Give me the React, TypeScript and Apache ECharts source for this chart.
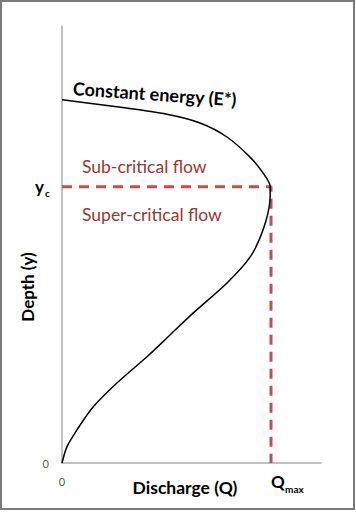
import React, { useEffect, useRef } from "react";
import * as echarts from "echarts";

// Constant-energy curve: [discharge Q, depth y] (relative units, 0..100)
const curveQ = [0, 21.2, 40.5, 53.3, 63.7, 72.6, 77.6, 80.4, 80.3, 77.6, 72.6, 63.7, 50.6, 41.7, 32.8, 21.2, 12.0, 5.8, 1.9, 0];
const curveY = [83.1, 81.5, 79.8, 77.8, 74.6, 70.0, 66.4, 63.2, 60.2, 53.3, 47.1, 41.2, 34.3, 29.3, 24.3, 18.3, 12.8, 7.6, 3.7, 0];
const criticalDepth = 63.2; // y_c
const maxDischarge = 80.7; // Q_max
const axisMin = 0;
const axisMax = 100;

const FONT = "Lato, 'Open Sans', sans-serif";
const RED_TEXT = "#953735";
const RED_LINE = "#c0504d";

export default function App() {
  const ref = useRef<HTMLDivElement>(null);
  useEffect(() => {
    if (!ref.current) return;
    const chart = echarts.init(ref.current, null, { renderer: "svg" });
    const curve = curveQ.map((q, i) => [q, curveY[i]]);
    const dashed = [
      [axisMin, criticalDepth],
      [maxDischarge, criticalDepth],
      [maxDischarge, axisMin],
    ];
    chart.setOption({
      animation: false,
      backgroundColor: "#ffffff",
      grid: { left: 62, right: 35, top: 26, bottom: 49, containLabel: false },
      xAxis: {
        type: "value",
        min: axisMin,
        max: axisMax,
        interval: 100,
        axisLine: { show: true, lineStyle: { color: "#acacac", width: 1.5 } },
        axisTick: { show: false },
        splitLine: { show: false },
        axisLabel: {
          margin: 13,
          color: "#555",
          fontSize: 11,
          fontFamily: FONT,
          formatter: (v: number) => (v === 0 ? "0" : ""),
        },
      },
      yAxis: {
        type: "value",
        min: axisMin,
        max: axisMax,
        interval: 100,
        axisLine: { show: true, lineStyle: { color: "#acacac", width: 1.5 } },
        axisTick: { show: false },
        splitLine: { show: false },
        axisLabel: {
          margin: 13,
          color: "#555",
          fontSize: 11,
          fontFamily: FONT,
          formatter: (v: number) => (v === 0 ? "0" : ""),
        },
      },
      series: [
        {
          type: "line",
          data: dashed,
          symbol: "none",
          lineStyle: { color: RED_LINE, width: 3, type: [10, 7] },
          z: 2,
        },
        {
          type: "line",
          data: curve,
          symbol: "none",
          smooth: 0.3,
          lineStyle: { color: "#000", width: 1.5 },
          z: 3,
        },
      ],
      graphic: [
        {
          type: "rect",
          shape: { x: 1, y: 1, width: 353, height: 508 },
          style: { fill: "none", stroke: "#7a7a7a", lineWidth: 2 },
          silent: true,
        },
        {
          type: "text",
          x: 73,
          y: 88,
          rotation: -0.07,
          style: {
            text: "Constant energy (E*)",
            font: `bold 18px ${FONT}`,
            fill: "#000",
            textVerticalAlign: "middle",
          },
        },
        {
          type: "text",
          x: 82,
          y: 166,
          style: {
            text: "Sub-critical flow",
            font: `17.5px ${FONT}`,
            fill: RED_TEXT,
            textVerticalAlign: "middle",
          },
        },
        {
          type: "text",
          x: 82,
          y: 214,
          style: {
            text: "Super-critical flow",
            font: `17.5px ${FONT}`,
            fill: RED_TEXT,
            textVerticalAlign: "middle",
          },
        },
        {
          type: "text",
          x: 35,
          y: 186,
          style: { text: "y", font: `bold 17px ${FONT}`, fill: "#000", textVerticalAlign: "middle" },
        },
        {
          type: "text",
          x: 45,
          y: 193,
          style: { text: "c", font: `bold 10px ${FONT}`, fill: "#000", textVerticalAlign: "middle" },
        },
        {
          type: "text",
          x: 27,
          y: 287,
          rotation: Math.PI / 2,
          style: {
            text: "Depth (y)",
            font: `bold 17px ${FONT}`,
            fill: "#000",
            textAlign: "center",
            textVerticalAlign: "middle",
          },
        },
        {
          type: "text",
          x: 185,
          y: 487,
          style: {
            text: "Discharge (Q)",
            font: `bold 17.5px ${FONT}`,
            fill: "#000",
            textAlign: "center",
            textVerticalAlign: "middle",
          },
        },
        {
          type: "text",
          x: 271,
          y: 481,
          style: { text: "Q", font: `bold 17px ${FONT}`, fill: "#000", textVerticalAlign: "middle" },
        },
        {
          type: "text",
          x: 285,
          y: 489,
          style: { text: "max", font: `bold 10px ${FONT}`, fill: "#000", textVerticalAlign: "middle" },
        },
      ],
    });
    return () => chart.dispose();
  }, []);
  return (
    <div
      ref={ref}
      style={{ position: "fixed", left: 0, top: 0, width: 356, height: 512 }}
    />
  );
}
